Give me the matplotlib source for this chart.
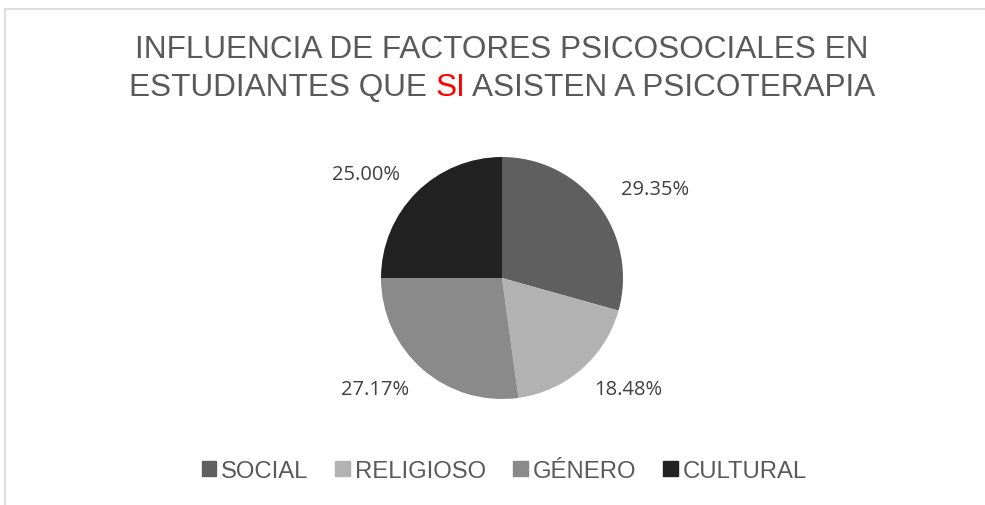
import matplotlib
matplotlib.use('Agg')
import matplotlib.pyplot as plt
from matplotlib.patches import Rectangle

# %% Data
categories = ['SOCIAL', 'RELIGIOSO', 'GÉNERO', 'CULTURAL']
percentages = [29.35, 18.48, 27.17, 25.00]
colors = ['#5f5f5f', '#b2b2b2', '#8a8a8a', '#222222']
title_line1 = 'INFLUENCIA DE FACTORES PSICOSOCIALES EN'
title_parts = ['ESTUDIANTES QUE ', 'SI', ' ASISTEN A PSICOTERAPIA']
title_colors = ['#595959', '#ff0000', '#595959']

title_font = 'Liberation Sans'
label_font = 'Open Sans'

fig = plt.figure(figsize=(9.85, 5.06), dpi=100)
W, H = 985, 506

# chart area border (light grey)
fig.add_artist(Rectangle((4.5 / W, -0.1), 1.2, (H - 9.5) / H + 0.1,
                         transform=fig.transFigure, fill=False,
                         edgecolor='#d9d9d9', linewidth=1.2))

# %% Pie
cx, cy, r = 502, 279, 121
ax = fig.add_axes([(cx - r) / W, (H - cy - r) / H, 2 * r / W, 2 * r / H])
wedges, texts, autotexts = ax.pie(percentages, colors=colors, startangle=90,
                                  counterclock=False, autopct='%.2f%%',
                                  pctdistance=1.42,
                                  textprops=dict(fontsize=14.5, color='#404040',
                                                 family=label_font))
# Excel-style outside-end labels sit a bit wider and flatter than the mid-angle
for t in autotexts:
    px, py = t.get_position()
    t.set_position((px * 1.12, py * 0.86))
ax.set_xlim(-1, 1)
ax.set_ylim(-1, 1)
ax.set_aspect('equal')

# %% Title (two lines, "SI" in red)
tsize = 22.7
fig.text(cx / W, 1 - 50 / H, title_line1, ha='center', va='center',
         fontsize=tsize, color='#595959', family=title_font)
y2 = 1 - 88 / H
pieces = []
for txt, col in zip(title_parts, title_colors):
    pieces.append(fig.text(0, y2, txt, ha='left', va='center', fontsize=tsize,
                           color=col, family=title_font))
fig.canvas.draw()
rend = fig.canvas.get_renderer()
widths = [p.get_window_extent(rend).width for p in pieces]
x = cx - sum(widths) / 2
for p, w in zip(pieces, widths):
    p.set_x(x / W)
    x += w

# %% Legend
handles = [Rectangle((0, 0), 1, 1, color=c) for c in colors]
leg = fig.legend(handles, categories, loc='center', ncol=4, frameon=False,
                 bbox_to_anchor=(504 / W, 1 - 472 / H),
                 prop=dict(family=title_font, size=17.2),
                 handlelength=0.6, handleheight=0.6, handletextpad=0.2,
                 columnspacing=1.15)
for t in leg.get_texts():
    t.set_color('#595959')

fig.savefig('out.png', dpi=100)
